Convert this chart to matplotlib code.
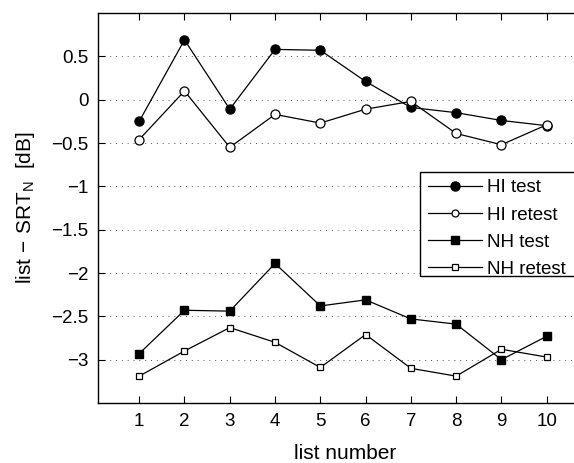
import numpy as np
import matplotlib
matplotlib.use('Agg')
import matplotlib.pyplot as plt
from matplotlib.patches import Rectangle

plt.rcParams['font.family'] = ['Liberation Sans', 'DejaVu Sans']
plt.rcParams['mathtext.fontset'] = 'custom'
plt.rcParams['mathtext.rm'] = 'Liberation Sans'
plt.rcParams['mathtext.it'] = 'Liberation Sans:italic'

# list numbers and the four series (dB)
lists = [1, 2, 3, 4, 5, 6, 7, 8, 9, 10]
hi_test = [-0.25, 0.69, -0.11, 0.58, 0.57, 0.21, -0.09, -0.15, -0.24, -0.30]
hi_retest = [-0.46, 0.10, -0.55, -0.17, -0.27, -0.11, -0.02, -0.39, -0.52, -0.29]
nh_test = [-2.93, -2.43, -2.44, -1.89, -2.38, -2.31, -2.53, -2.59, -3.00, -2.73]
nh_retest = [-3.19, -2.90, -2.63, -2.80, -3.09, -2.71, -3.10, -3.19, -2.88, -2.97]
yticks = [0.5, 0, -0.5, -1, -1.5, -2, -2.5, -3]
ytick_labels = ['0.5', '0', '\u22120.5', '\u22121', '\u22121.5', '\u22122', '\u22122.5', '\u22123']

W, H = 574, 463
fig = plt.figure(figsize=(W/100, H/100), dpi=100)
# axes run past the right edge of the picture, as in the original crop
x0, x1, y0, y1 = 98, 592, 13, 403
ax = fig.add_axes([x0/W, 1 - y1/H, (x1-x0)/W, (y1-y0)/H])

ax.plot(lists, hi_test, '-', color='k', lw=0.9, marker='o', ms=6.5, mfc='k', mec='k', label='HI test')
ax.plot(lists, hi_retest, '-', color='k', lw=0.9, marker='o', ms=6.5, mfc='white', mec='k', mew=0.9, label='HI retest')
ax.plot(lists, nh_test, '-', color='k', lw=0.9, marker='s', ms=5.5, mfc='k', mec='k', label='NH test')
ax.plot(lists, nh_retest, '-', color='k', lw=0.9, marker='s', ms=5, mfc='white', mec='k', mew=0.9, label='NH retest')

ax.set_xlim(0.09, 11)
ax.set_ylim(-3.5, 1.0)
ax.set_xticks(lists)
ax.set_yticks(yticks)
ax.set_yticklabels(ytick_labels)
ax.tick_params(direction='in', top=True, right=True, length=5, width=0.8, labelsize=13.5, colors='k', pad=7)
ax.yaxis.grid(True, linestyle=(0, (1, 5)), color='#555555', lw=0.7)
for s in ax.spines.values():
    s.set_linewidth(1.0)

ax.set_xlabel('list number', fontsize=15, labelpad=10)
ax.set_ylabel('list$\\,-\\,$SRT$_\\mathrm{N}$  [dB]', fontsize=15, labelpad=10)

# legend box, cut off on the right like the original
bx = (420 - x0) / (x1 - x0)
by_top = (y1 - 171.5) / (y1 - y0)
by_bot = (y1 - 275.5) / (y1 - y0)
box = Rectangle((bx, by_bot), 1.0, by_top - by_bot, transform=ax.transAxes,
                facecolor='white', edgecolor='k', lw=1.0, zorder=4.5, clip_on=False)
ax.add_patch(box)

leg = ax.legend(loc='upper left', bbox_to_anchor=(bx, by_top), frameon=False,
                fontsize=13.5, handlelength=2.9, handletextpad=0.25, labelspacing=0.53,
                borderpad=0.42, borderaxespad=0)
leg.set_zorder(5)
sizes = [6.5, 5, 6, 4]
for h, s in zip(leg.legend_handles, sizes):
    h.set_markersize(s)

fig.savefig('out.png', dpi=100)
